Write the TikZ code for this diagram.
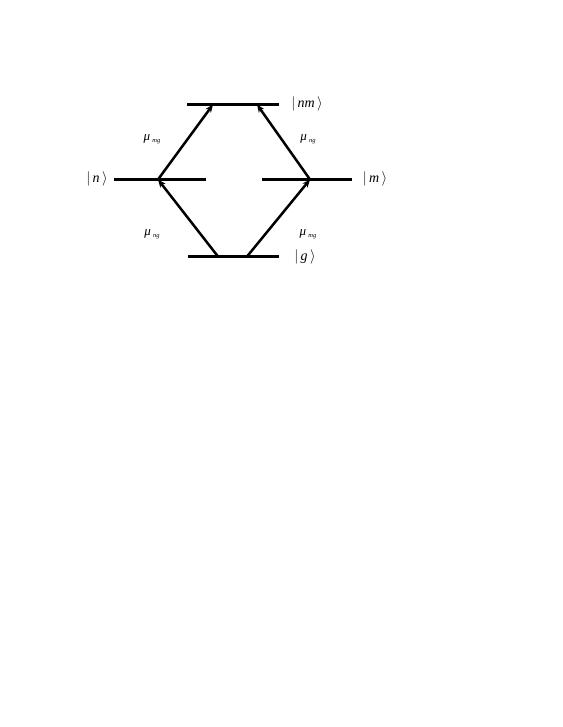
\documentclass[tikz,border=0pt]{standalone}
\usepackage{fontspec}
\setmainfont{Liberation Serif}
\usetikzlibrary{arrows.meta}
\newcommand{\myket}[1]{$|\,$\textit{#1}$\,\rangle$}
\newcommand{\mymu}[1]{\textit{μ}\,\raisebox{-0.35ex}{\fontsize{6.5}{7}\selectfont\textit{#1}}}
\tikzset{
  level/.style={line width=2.5pt},
  trans/.style={line width=2.5pt,-{Stealth[length=8pt,width=6.5pt]}},
  lbl/.style={inner sep=0pt,font=\fontsize{14}{16}\selectfont},
  mu/.style={inner sep=0pt,font=\fontsize{13}{15}\selectfont}
}
\begin{document}
\begin{tikzpicture}[x=1pt,y=-1pt]
\useasboundingbox[fill=white] (0,0) rectangle (562,727);
% levels
\coordinate (t1) at (187,104.5); \coordinate (t2) at (279,104.5);
\coordinate (l1) at (114,179.5); \coordinate (l2) at (206,179.5);
\coordinate (r1) at (262,179.5); \coordinate (r2) at (352,179.5);
\coordinate (b1) at (188,256.5); \coordinate (b2) at (279,256.5);
\draw[level] (t1) -- (t2);
\draw[level] (l1) -- (l2);
\draw[level] (r1) -- (r2);
\draw[level] (b1) -- (b2);
% transition endpoints
\coordinate (nl) at (158,179.5);
\coordinate (nr) at (310,179.5);
\coordinate (tl) at (213,104.5);
\coordinate (tr) at (257,104.5);
\coordinate (bl) at (218,256.5);
\coordinate (br) at (247,256.5);
\draw[trans] (nl) -- (tl);
\draw[trans] (nr) -- (tr);
\draw[trans] (bl) -- (nl);
\draw[trans] (br) -- (nr);
% labels
\node[lbl] (knm) at (307,104) {\myket{nm}};
\node[lbl] (kn) at (97,179) {\myket{n}};
\node[lbl] (km) at (375,179) {\myket{m}};
\node[lbl] (kg) at (305,257) {\myket{g}};
\node[mu] (m1) at (152,139) {\mymu{mg}};
\node[mu] (m2) at (308,139) {\mymu{ng}};
\node[mu] (m3) at (152,234) {\mymu{ng}};
\node[mu] (m4) at (308,234) {\mymu{mg}};
\end{tikzpicture}
\end{document}
